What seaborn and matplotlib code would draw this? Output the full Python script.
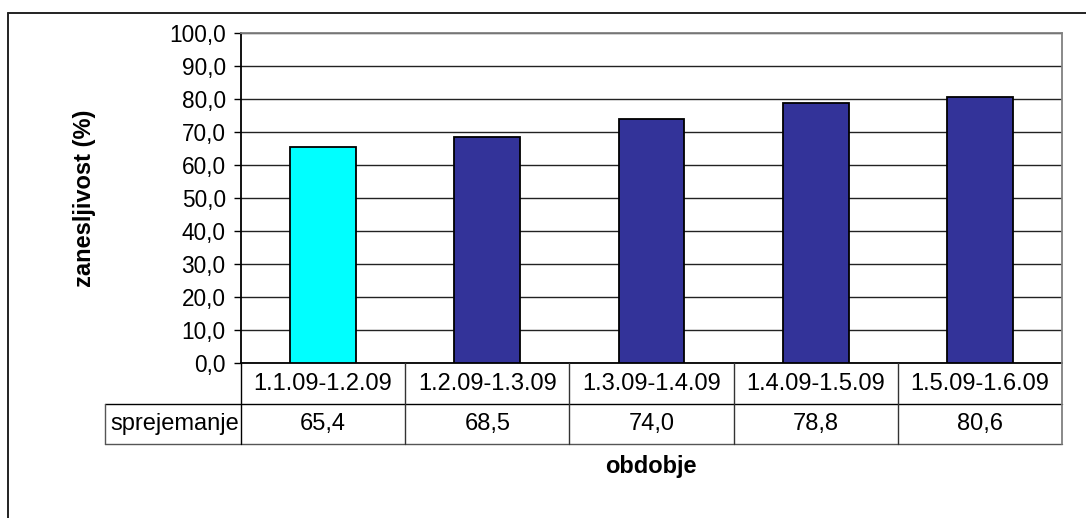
import matplotlib
matplotlib.use("Agg")
import matplotlib.pyplot as plt
from matplotlib.lines import Line2D
import seaborn as sns
import pandas as pd

# Data
periods = ["1.1.09-1.2.09", "1.2.09-1.3.09", "1.3.09-1.4.09", "1.4.09-1.5.09", "1.5.09-1.6.09"]
acceptance = [65.4, 68.5, 74.0, 78.8, 80.6]
bar_colors = ["#00FFFF", "#333399", "#333399", "#333399", "#333399"]
row_label = "sprejemanje"
y_ticks = [0, 10, 20, 30, 40, 50, 60, 70, 80, 90, 100]

sns.set_theme(style="white")
plt.rcParams["font.family"] = ["Liberation Sans", "DejaVu Sans"]

W, H = 1086, 518
fig = plt.figure(figsize=(W / 100, H / 100), dpi=100)
fig.patch.set_facecolor("white")

# plot area in pixels (left, top, right, bottom)
L, T, R, B = 241, 33, 1062, 363
ax = fig.add_axes([L / W, 1 - B / H, (R - L) / W, (B - T) / H])

df = pd.DataFrame({"period": periods, "value": acceptance})
sns.barplot(data=df, x="period", y="value", hue="period", palette=bar_colors,
            legend=False, width=0.4, saturation=1, edgecolor="black",
            linewidth=1.3, ax=ax, zorder=3)

ax.set_xlim(-0.5, len(periods) - 0.5)
ax.set_ylim(0, 100)
ax.set_yticks(y_ticks)
ax.set_yticklabels([f"{v:.1f}".replace(".", ",") for v in y_ticks], fontsize=16.3)
ax.set_xticks([])
ax.set_xlabel("")
ax.set_ylabel("")
ax.yaxis.grid(True, color="#222222", linewidth=1.0, zorder=0)
ax.set_axisbelow(True)
ax.tick_params(axis="y", which="major", left=True, length=5.0, width=1.0,
               color="black", pad=6, labelcolor="black")

for side in ["left", "bottom"]:
    ax.spines[side].set_color("black")
    ax.spines[side].set_linewidth(1.3)
for side in ["top", "right"]:
    ax.spines[side].set_color("#808080")
    ax.spines[side].set_linewidth(1.3)
ax.spines["right"].set_visible(False)

# data table below the plot, in axes coordinates
ph = B - T
pw = R - L
row1 = -(404 - B) / ph
row2 = -(444 - B) / ph
xlab = (105 - L) / pw
n = len(periods)
table_fs = 17

def tline(x0, y0, x1, y1, color="black", lw=1.0):
    ax.add_line(Line2D([x0, x1], [y0, y1], transform=ax.transAxes,
                       color=color, linewidth=lw, clip_on=False, zorder=5))

tline(xlab, row1, 1, row1)
tline(xlab, row2, 1, row2, color="#555555")
tline(xlab, row1, xlab, row2, color="#555555")
tline(0, 0, 0, row2)
for i in range(1, n):
    tline(i / n, 0, i / n, row2, color="#333333")
tline(1, 1, 1, row2, color="#808080", lw=1.3)

for i, (p, v) in enumerate(zip(periods, acceptance)):
    xc = (i + 0.5) / n
    ax.text(xc, row1 / 2, p, transform=ax.transAxes, ha="center", va="center",
            fontsize=table_fs, color="black")
    ax.text(xc, (row1 + row2) / 2, f"{v:.1f}".replace(".", ","),
            transform=ax.transAxes, ha="center", va="center",
            fontsize=table_fs, color="black")
ax.text(xlab + 0.007, (row1 + row2) / 2, row_label, transform=ax.transAxes,
        ha="left", va="center", fontsize=table_fs, color="black")

# axis titles
fig.text(84 / W, 1 - 198 / H, "zanesljivost (%)", rotation=90, ha="center",
         va="center", fontsize=17, fontweight="bold", color="black")
fig.text(651 / W, 1 - 466 / H, "obdobje", ha="center", va="center",
         fontsize=17, fontweight="bold", color="black")

# chart frame
fig.add_artist(Line2D([8 / W, 1.0], [1 - 13 / H, 1 - 13 / H],
                      transform=fig.transFigure, color="#222222", linewidth=1.4))
fig.add_artist(Line2D([8 / W, 8 / W], [1 - 13 / H, 0.0],
                      transform=fig.transFigure, color="#222222", linewidth=1.4))

fig.savefig("out.png", dpi=100, facecolor="white")
